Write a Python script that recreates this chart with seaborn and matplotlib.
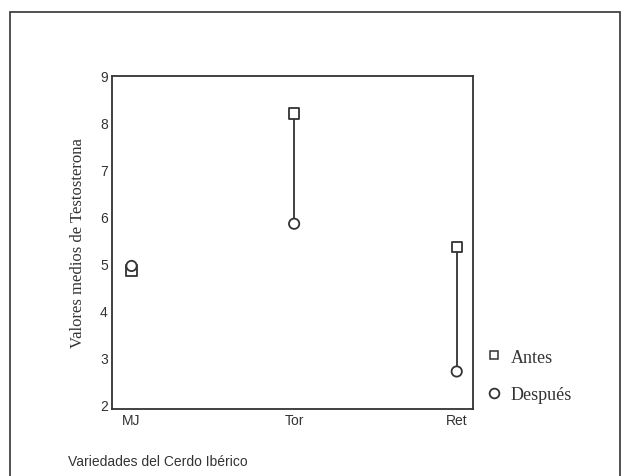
import matplotlib
matplotlib.use("Agg")
import matplotlib.pyplot as plt
import seaborn as sns
import pandas as pd
from matplotlib.lines import Line2D
from matplotlib.patches import Rectangle

categories = ["MJ", "Tor", "Ret"]
antes = [4.85, 8.2, 5.35]
despues = [4.95, 5.85, 2.7]
yticks = [2, 3, 4, 5, 6, 7, 8, 9]

sns.set_style("white")
plt.rcParams['font.family'] = ['Liberation Sans', 'DejaVu Sans']

df = pd.DataFrame({
    "var": categories * 2,
    "val": antes + despues,
    "grupo": ["Antes"] * 3 + ["Después"] * 3,
})

fig = plt.figure(figsize=(6.26, 4.77), dpi=100)
fig.patches.append(Rectangle((10 / 626, -0.05), 610 / 626, 1 - 13 / 477 + 0.05,
                             transform=fig.transFigure, fill=False,
                             edgecolor="#333333", linewidth=1.2))
ax = fig.add_axes([112 / 626, 67 / 477, 361 / 626, 333 / 477])

sns.lineplot(data=df, x="var", y="val", units="var", estimator=None,
             color="#333333", linewidth=1.3, ax=ax, legend=False, sort=False)
sns.scatterplot(data=df, x="var", y="val", style="grupo",
                markers={"Antes": "s", "Después": "o"},
                s=55, facecolor="white", edgecolor="#333333", linewidth=1.3,
                ax=ax, legend=False, zorder=3)
for coll in ax.collections:
    coll.set_facecolor("white")

ax.set_xlim(-0.12, 2.1)
ax.set_ylim(1.9, 9.0)
ax.set_yticks(yticks)
ax.set_yticklabels([str(t) for t in yticks], fontsize=10, color="#333333")
ax.set_xticks(range(len(categories)))
ax.set_xticklabels(categories, fontsize=10, color="#333333")
ax.tick_params(axis="both", length=2, width=1.5, direction="out", pad=1, colors="#333333")
for s in ax.spines.values():
    s.set_color("#333333")
    s.set_linewidth(1.3)

ax.set_xlabel("")
ax.set_ylabel("Valores medios de Testosterona", family=["Liberation Serif"],
              fontsize=12, color="#333333", labelpad=10)
fig.text(68 / 626, 1 - 462 / 477, "Variedades del Cerdo Ibérico", fontsize=10,
         color="#333333", va="center", ha="left")

handles = [
    Line2D([], [], marker="s", linestyle="none", markerfacecolor="white",
           markeredgecolor="#333333", markersize=6, markeredgewidth=1.1),
    Line2D([], [], marker="o", linestyle="none", markerfacecolor="white",
           markeredgecolor="#333333", markersize=7, markeredgewidth=1.3),
]
leg = fig.legend(handles, ["Antes", "Después"], loc="center left",
                 bbox_to_anchor=(467 / 626, 1 - 377 / 477), frameon=False,
                 prop={"family": "Liberation Serif", "size": 13},
                 labelspacing=1.15, handletextpad=0.3, handlelength=1.2)
for t in leg.get_texts():
    t.set_color("#333333")

fig.savefig("out.png", dpi=100, facecolor="white")
